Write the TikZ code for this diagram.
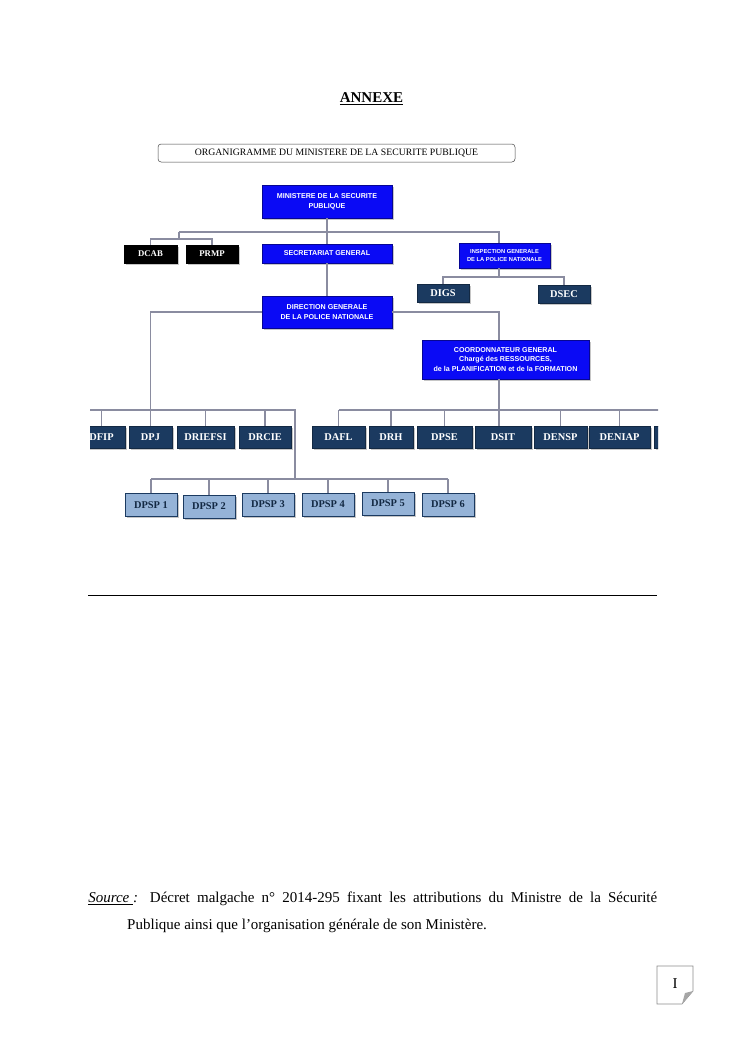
\documentclass[tikz,border=0pt]{standalone}
\usepackage{fontspec}
\setmainfont{Liberation Serif}
\newfontfamily\arialfont{Liberation Sans}
\usetikzlibrary{shadows}
\definecolor{ministry}{HTML}{0A0AF5}
\definecolor{navy}{HTML}{1B3A60}
\definecolor{regional}{HTML}{95B3D7}
\definecolor{linkgray}{HTML}{8A8CA0}

\begin{document}
\begin{tikzpicture}[x=0.8pt,y=-0.8pt,
  boxsize/.style 2 args={minimum width=#1*0.8pt,minimum height=#2*0.8pt},
  boxshadow/.style={drop shadow={shadow xshift=1.2pt,shadow yshift=-1.2pt,fill=black!50,opacity=0.45}},
  bluebox/.style={draw=ministry!60!black,fill=ministry,text=white,inner sep=0pt,align=center,boxshadow,
    font=\arialfont\fontsize{5.7}{7.7}\selectfont\bfseries},
  blackbox/.style={draw=black,fill=black,text=white,inner sep=0pt,boxshadow,
    font=\fontsize{7}{8}\selectfont\bfseries},
  dirbox/.style={draw=navy!70!black,fill=navy,text=white,inner sep=0pt,boxshadow,
    font=\fontsize{8.3}{9}\selectfont\bfseries},
  dpspbox/.style={draw=navy,fill=regional,text=navy!70!black,inner sep=0pt,boxshadow,
    font=\fontsize{8.3}{9}\selectfont\bfseries},
  link/.style={draw=linkgray,line width=1pt}]
  \useasboundingbox (0,0) rectangle (745,1053);
  \node[anchor=base,font=\fontsize{12}{14}\selectfont\bfseries] (annexe) at (371.5,102) {\underline{ANNEXE}};
  \begin{scope}
    \clip (90,130) rectangle (658,540);
    \node[draw=black!75,rounded corners=2.5pt,boxsize={357}{18},inner sep=0pt,font=\fontsize{7.8}{9}\selectfont] (title) at (336.5,153) {ORGANIGRAMME DU MINISTERE DE LA SECURITE PUBLIQUE};
    \node[bluebox,boxsize={130}{33}] (ms) at (327,201.5) {MINISTERE DE LA SECURITE\\PUBLIQUE};
    \node[blackbox,boxsize={53}{18}] (dcab) at (150.5,254) {DCAB};
    \node[blackbox,boxsize={52}{18}] (prmp) at (212,254) {PRMP};
    \node[bluebox,boxsize={130}{19}] (sg) at (327,253.5) {SECRETARIAT GENERAL};
    \node[bluebox,boxsize={91}{25},font=\arialfont\fontsize{4.6}{6.4}\selectfont\bfseries] (ig) at (504.5,255.5) {INSPECTION GENERALE\\DE LA POLICE NATIONALE};
    \node[dirbox,boxsize={52}{18}] (digs) at (443,293) {DIGS};
    \node[dirbox,boxsize={52}{18}] (dsec) at (564,294) {DSEC};
    \node[bluebox,boxsize={130}{32}] (dgpn) at (327,312) {DIRECTION GENERALE\\DE LA POLICE NATIONALE};
    \node[bluebox,boxsize={167}{39}] (coord) at (505.5,359.5) {COORDONNATEUR GENERAL\\Chargé des RESSOURCES,\\de la PLANIFICATION et de la FORMATION};
    \foreach \name/\lab/\x/\w in {dfip/DFIP/101.5/48, dpj/DPJ/150.5/43, driefsi/DRIEFSI/205.5/57, drcie/DRCIE/265/52,
      dafl/DAFL/338.5/53, drh/DRH/391/44, dpse/DPSE/444.5/55, dsit/DSIT/503/56, densp/DENSP/560.5/53,
      deniap/DENIAP/619.5/61, dnext//680/52}
      \node[dirbox,boxsize={\w}{22}] (\name) at (\x,437) {\lab};
    \foreach \i/\x/\y in {1/151/505, 2/209/506.5, 3/268/504.5, 4/328/504.5, 5/388/503.5, 6/448/504.5}
      \node[dpspbox,boxsize={52}{23}] (dpsp\i) at (\x,\y) {DPSP \i};
    \coordinate (topL) at (179,232);
    \coordinate (topR) at (499,232);
    \coordinate (cabL) at (150.5,239);
    \coordinate (cabR) at (212,239);
    \coordinate (igL) at (443,277);
    \coordinate (igR) at (564,277);
    \coordinate (dirL) at (90,410);
    \coordinate (dirR) at (295,410);
    \coordinate (rhL) at (338.5,410);
    \coordinate (rhR) at (660,410);
    \coordinate (dpspL) at (151,479);
    \coordinate (dpspR) at (448,479);
    \draw[link] (ms.south) -- (sg.north);
    \draw[link] (topL) -- (topR) -- (topR |- ig.north);
    \draw[link] (topL) -- (topL |- cabL);
    \draw[link] (dcab.north) -- (cabL) -- (cabR) -- (prmp.north);
    \draw[link] (sg.south) -- (dgpn.north);
    \draw[link] (topR |- ig.south) -- (topR |- igL);
    \draw[link] (digs.north) -- (igL) -- (igR) -- (dsec.north);
    \draw[link] (dgpn.west) -| (dpj.north);
    \draw[link] (dgpn.east) -| (topR |- coord.north);
    \draw[link] (dirL) -- (dirR) -- (dirR |- dpspL);
    \foreach \n in {dfip,driefsi,drcie}
      \draw[link] (\n.north) -- (\n.north |- dirL);
    \draw[link] (dpspL) -- (dpspR);
    \foreach \i in {1,...,6}
      \draw[link] (dpsp\i.north) -- (dpsp\i.north |- dpspL);
    \draw[link] (topR |- coord.south) -- (topR |- dsit.north);
    \draw[link] (rhL) -- (rhR);
    \foreach \n in {dafl,drh,dpse,densp,deniap,dnext}
      \draw[link] (\n.north) -- (\n.north |- rhL);
  \end{scope}
  \draw[line width=0.6pt] (88,595) -- (657,595);
  \node[anchor=base west,inner sep=0pt,text width=455.2pt,align=justify,font=\fontsize{12}{21.6}\selectfont] (source) at (88,902)
    {\underline{\textit{Source }}\textit{:} Décret malgache n° 2014-295 fixant les attributions du Ministre de la Sécurité\linebreak Publique ainsi que l’organisation générale de son Ministère.\hangindent=31.2pt\hangafter=1\par};
  \draw[black!45,line width=0.5pt] (657,966) -- (693,966) -- (693,991) -- (682,1004) -- (657,1004) -- cycle;
  \fill[black!35] (693,991) -- (682,1004) -- (685,993) -- cycle;
  \node[font=\fontsize{12}{14}\selectfont] (pagenum) at (675,984) {I};
\end{tikzpicture}
\end{document}
